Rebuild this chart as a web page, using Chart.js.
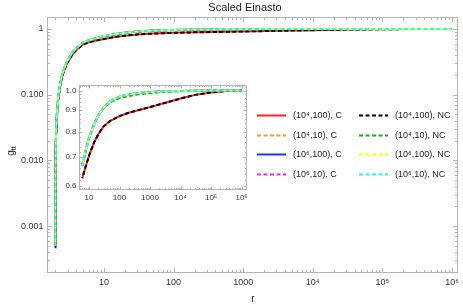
<!DOCTYPE html>
<html>
<head>
<meta charset="utf-8">
<title>Scaled Einasto</title>
<script src="https://cdn.jsdelivr.net/npm/chart.js@4.4.1/dist/chart.umd.min.js"></script>
<style>
    html, body { margin: 0; padding: 0; background: #fff; }
    #wrap { position: relative; width: 463px; height: 307px; }
    #mainChart { position: absolute; left: 0; top: 0; }
    #insetChart { position: absolute; left: 55px; top: 80px; }
</style>
</head>
<body>
<div id="wrap">
    <canvas id="mainChart" width="463" height="307"></canvas>
    <canvas id="insetChart" width="195" height="123"></canvas>
</div>
<script>
// radius samples (r)
const radii = [2.001, 2.003, 2.01, 2.03, 2.06, 2.1, 2.2, 2.35, 2.5, 2.75, 3, 3.5, 4, 5, 6,
    8, 10, 15, 20, 30, 50, 100, 200, 500, 1000, 3000, 1e4, 3e4, 1e5, 3e5, 1e6];

// g_tt for each (rho, n) parameter pair
const g_1e4_100 = [4.7e-4, 1.4e-3, 4.7e-3, 0.014, 0.028, 0.045, 0.084, 0.136, 0.187, 0.252, 0.308, 0.405, 0.477, 0.58, 0.625,
    0.67, 0.705, 0.76, 0.79, 0.825, 0.85, 0.872, 0.888, 0.903, 0.915, 0.935, 0.958, 0.977, 0.99, 0.997, 1.0];
const g_1e4_10 = [5e-4, 1.5e-3, 5e-3, 0.015, 0.03, 0.048, 0.09, 0.145, 0.2, 0.27, 0.33, 0.435, 0.51, 0.62, 0.668,
    0.73, 0.775, 0.838, 0.875, 0.91, 0.94, 0.96, 0.972, 0.982, 0.987, 0.993, 0.997, 0.999, 1.0, 1.0, 1.0];
const g_1e6_100 = [5e-4, 1.5e-3, 5e-3, 0.015, 0.03, 0.048, 0.09, 0.145, 0.2, 0.27, 0.33, 0.435, 0.51, 0.62, 0.668,
    0.73, 0.775, 0.838, 0.875, 0.912, 0.945, 0.968, 0.979, 0.988, 0.992, 0.996, 0.998, 0.999, 1.0, 1.0, 1.0];
const g_1e6_10 = [5e-4, 1.5e-3, 5e-3, 0.015, 0.03, 0.048, 0.09, 0.145, 0.2, 0.27, 0.33, 0.435, 0.51, 0.62, 0.668,
    0.73, 0.775, 0.838, 0.875, 0.912, 0.945, 0.968, 0.979, 0.988, 0.992, 0.996, 0.998, 0.999, 1.0, 1.0, 1.0];

const seriesLabels = ['(10⁴,100), C', '(10⁴,10), C', '(10⁶,100), C', '(10⁶,10), C',
    '(10⁴,100), NC', '(10⁴,10), NC', '(10⁶,100), NC', '(10⁶,10), NC'];
const seriesValues = [g_1e4_100, g_1e4_10, g_1e6_100, g_1e6_10,
    g_1e4_100, g_1e4_10, g_1e6_100, g_1e6_10];

// tick labels
const xTicks = [10, 100, 1000, 1e4, 1e5, 1e6];
const xTickLabels = ['10', '100', '1000', '10⁴', '10⁵', '10⁶'];
const mainYTicks = [0.001, 0.01, 0.1, 1];
const mainYLabels = ['0.001', '0.010', '0.100', '1'];
const insetYTicks = [0.6, 0.7, 0.8, 0.9, 1.0];
const insetYLabels = ['0.6', '0.7', '0.8', '0.9', '1.0'];

// styles
const colors = ['#ff2020', '#ff9933', '#2233ff', '#ff22ff', '#000000', '#22aa22', '#ffff22', '#22ffff'];
const dashes = [[], [4, 2.5], [], [4, 2.5], [4, 2.5], [4, 2.5], [4, 2.5], [4, 2.5]];
const dashOffsets = [0, 0, 0, 3, 3, 0, 3, 0];
const FONT = '"Liberation Sans", Arial, sans-serif';
const FRAME = '#b4b4b4';
const TEXT = '#333';

function logMinors(min, max) {
    const out = [];
    for (let d = Math.floor(Math.log10(min)); d <= Math.ceil(Math.log10(max)); d++) {
        for (let k = 2; k <= 9; k++) {
            const v = k * Math.pow(10, d);
            if (v > min && v < max) out.push(v);
        }
    }
    return out;
}

function buildDatasets(minR) {
    return seriesLabels.map((label, s) => ({
        label: label,
        data: radii.map((r, i) => ({ x: r, y: seriesValues[s][i] })).filter(p => p.x >= minR),
        borderColor: colors[s],
        borderWidth: 2,
        borderDash: dashes[s],
        borderDashOffset: dashOffsets[s],
        pointRadius: 0,
        tension: 0,
        fill: false,
        order: seriesLabels.length - 1 - s
    }));
}

// frame with inward ticks on all four sides, plus tick labels
const framePlugin = {
    id: 'frame',
    afterDraw(chart, args, opts) {
        const { ctx, chartArea: a, scales } = chart;
        ctx.save();
        ctx.strokeStyle = FRAME;
        ctx.lineWidth = 1;
        const L = Math.round(a.left) + 0.5, T = Math.round(a.top) + 0.5;
        const R = Math.round(a.right) + 0.5, B = Math.round(a.bottom) + 0.5;
        ctx.strokeRect(L, T, R - L, B - T);
        const xt = (v, len) => {
            const px = Math.round(scales.x.getPixelForValue(v)) + 0.5;
            ctx.moveTo(px, B); ctx.lineTo(px, B - len);
            ctx.moveTo(px, T); ctx.lineTo(px, T + len);
        };
        const yt = (v, len) => {
            const py = Math.round(scales.y.getPixelForValue(v)) + 0.5;
            ctx.moveTo(L, py); ctx.lineTo(L + len, py);
            ctx.moveTo(R, py); ctx.lineTo(R - len, py);
        };
        ctx.beginPath();
        xTicks.forEach(v => xt(v, opts.major));
        opts.yTicks.forEach(v => yt(v, opts.major));
        opts.xMinor.forEach(v => xt(v, opts.minor));
        opts.yMinor.forEach(v => yt(v, opts.minor));
        ctx.stroke();

        ctx.fillStyle = TEXT;
        ctx.font = opts.fontSize + 'px ' + FONT;
        ctx.textBaseline = 'middle';
        ctx.textAlign = 'center';
        xTicks.forEach((v, i) => {
            ctx.fillText(xTickLabels[i], scales.x.getPixelForValue(v), B + opts.xGap);
        });
        ctx.textAlign = 'right';
        opts.yTicks.forEach((v, i) => {
            ctx.fillText(opts.yLabels[i], L - opts.yGap, scales.y.getPixelForValue(v));
        });
        ctx.restore();
    }
};

function buildOptions(cfg) {
    return {
        responsive: false,
        animation: false,
        events: [],
        layout: { padding: cfg.padding },
        plugins: {
            legend: { display: false },
            tooltip: { enabled: false },
            frame: cfg.frame
        },
        scales: {
            x: { type: 'logarithmic', display: false, min: cfg.xMin, max: cfg.xMax },
            y: { type: 'logarithmic', display: false, min: cfg.yMin, max: cfg.yMax }
        }
    };
}

// title, axis labels and the two-column legend of the main plot
const decorPlugin = {
    id: 'decor',
    afterDraw(chart) {
        const ctx = chart.ctx;
        ctx.save();
        ctx.fillStyle = '#222';
        ctx.textBaseline = 'middle';
        ctx.textAlign = 'center';
        ctx.font = '11px ' + FONT;
        ctx.fillText('Scaled Einasto', 245, 8);
        ctx.font = '10px ' + FONT;
        ctx.fillText('r', 253, 299);

        // y label g_tt, rotated
        ctx.translate(11, 151);
        ctx.rotate(-Math.PI / 2);
        ctx.textAlign = 'left';
        ctx.font = '10px ' + FONT;
        const gw = ctx.measureText('g').width;
        ctx.font = '7px ' + FONT;
        const tw = ctx.measureText('tt').width;
        const x0 = -(gw + tw) / 2;
        ctx.font = '10px ' + FONT;
        ctx.fillText('g', x0, 0);
        ctx.font = '7px ' + FONT;
        ctx.fillText('tt', x0 + gw, 3);
        ctx.restore();

        // legend
        const colX = [257, 359];
        const rowY = [115, 134.7, 154.4, 174.1];
        ctx.save();
        ctx.font = '9px ' + FONT;
        ctx.textBaseline = 'middle';
        ctx.fillStyle = '#222';
        seriesLabels.forEach((label, s) => {
            const cx = colX[Math.floor(s / 4)];
            const cy = Math.round(rowY[s % 4]) + 0.5;
            ctx.strokeStyle = colors[s];
            ctx.lineWidth = 2;
            ctx.setLineDash(dashes[s]);
            ctx.beginPath();
            ctx.moveTo(cx, cy);
            ctx.lineTo(cx + 29, cy);
            ctx.stroke();
            ctx.fillText(label, cx + 36, cy);
        });
        ctx.restore();
    }
};

new Chart(document.getElementById('mainChart'), {
    type: 'line',
    data: { datasets: buildDatasets(0) },
    options: buildOptions({
        xMin: 1.52, xMax: 1.18e6, yMin: 2.0e-4, yMax: 1.52,
        padding: { left: 47, top: 17, right: 6, bottom: 35 },
        frame: { major: 4.5, minor: 2.5, fontSize: 9, xGap: 10, yGap: 4,
            yTicks: mainYTicks, yLabels: mainYLabels,
            xMinor: logMinors(1.52, 1.18e6), yMinor: logMinors(2.0e-4, 1.52) }
    }),
    plugins: [framePlugin, decorPlugin]
});

const insetYMinor = [];
for (let k = 61; k <= 102; k++) {
    if (k % 2 === 0 && k % 10 !== 0) insetYMinor.push(k / 100);
}

new Chart(document.getElementById('insetChart'), {
    type: 'line',
    data: { datasets: buildDatasets(5.8) },
    options: buildOptions({
        xMin: 4.7, xMax: 1.4e6, yMin: 0.593, yMax: 1.03,
        padding: { left: 24, top: 5, right: 4, bottom: 14 },
        frame: { major: 3, minor: 1.5, fontSize: 8, xGap: 8, yGap: 3,
            yTicks: insetYTicks, yLabels: insetYLabels,
            xMinor: logMinors(4.7, 1.4e6), yMinor: insetYMinor }
    }),
    plugins: [framePlugin]
});
</script>
</body>
</html>
